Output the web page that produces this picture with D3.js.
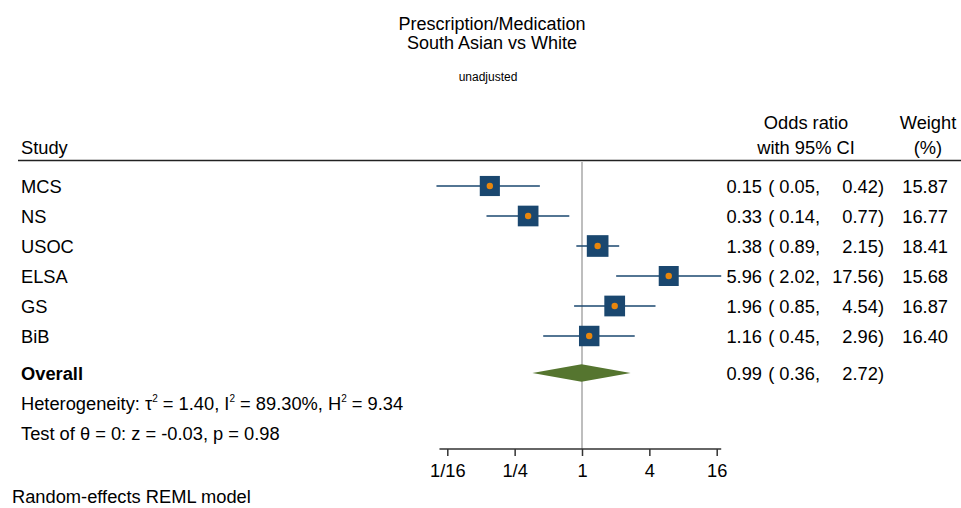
<!DOCTYPE html>
<html><head><meta charset="utf-8">
<script src="https://cdn.jsdelivr.net/npm/d3@7/dist/d3.min.js"></script>
<style>
body{margin:0;background:#fff;}
text{font-family:"Liberation Sans",Arial,sans-serif;fill:#000;}
</style></head>
<body><svg id="c" width="961" height="508"></svg>
<script>
const studies = ["MCS","NS","USOC","ELSA","GS","BiB"];
const oddsRatio = [0.15,0.33,1.38,5.96,1.96,1.16];
const ciLow = [0.05,0.14,0.89,2.02,0.85,0.45];
const ciHigh = [0.42,0.77,2.15,17.56,4.54,2.96];
const weights = [15.87,16.77,18.41,15.68,16.87,16.40];
const overall = {label:"Overall", or:0.99, lo:0.36, hi:2.72};
const tickValues = [1/16,1/4,1,4,16];
const tickLabels = ["1/16","1/4","1","4","16"];

const FS = "18.3px";
const svg = d3.select("#c");
const x = d3.scaleLog().base(2).domain([1/16,16]).range([447.3,716.7]);
const rowY = d3.scalePoint().domain(studies).range([186,336]);
const fmt = d3.format(".2f");

// titles
svg.append("text").attr("x",492).attr("y",30).attr("text-anchor","middle").style("font-size","18px").text("Prescription/Medication");
svg.append("text").attr("x",492).attr("y",49).attr("text-anchor","middle").style("font-size","18px").text("South Asian vs White");
svg.append("text").attr("x",488).attr("y",81).attr("text-anchor","middle").style("font-size","12px").text("unadjusted");

// headers
svg.append("text").attr("x",21).attr("y",154).style("font-size",FS).text("Study");
svg.append("text").attr("x",806).attr("y",129).attr("text-anchor","middle").style("font-size",FS).text("Odds ratio");
svg.append("text").attr("x",806).attr("y",154).attr("text-anchor","middle").style("font-size",FS).text("with 95% CI");
svg.append("text").attr("x",928).attr("y",129).attr("text-anchor","middle").style("font-size",FS).text("Weight");
svg.append("text").attr("x",928).attr("y",154).attr("text-anchor","middle").style("font-size",FS).text("(%)");
svg.append("line").attr("x1",18).attr("x2",961).attr("y1",160.5).attr("y2",160.5).attr("stroke","#222").attr("stroke-width",1.6);

// reference line
svg.append("line").attr("x1",x(1)).attr("x2",x(1)).attr("y1",162).attr("y2",449).attr("stroke","#a8a8a8").attr("stroke-width",1.5);

const rows = studies.map((s,i)=>({s,or:oddsRatio[i],lo:ciLow[i],hi:ciHigh[i],w:weights[i]}));
const g = svg.append("g");
rows.forEach(d=>{
  const y = rowY(d.s);
  g.append("line").attr("x1",x(d.lo)).attr("x2",x(d.hi)).attr("y1",y).attr("y2",y).attr("stroke","#1a476f").attr("stroke-width",1.5);
  const side = 5.05*Math.sqrt(d.w);
  g.append("rect").attr("x",x(d.or)-side/2).attr("y",y-side/2).attr("width",side).attr("height",side).attr("fill","#1a476f");
  g.append("circle").attr("cx",x(d.or)).attr("cy",y).attr("r",3.2).attr("fill","#e8860c");
  g.append("text").attr("x",21).attr("y",y+6.5).style("font-size",FS).text(d.s);
  g.append("text").attr("x",762).attr("y",y+6.5).attr("text-anchor","end").style("font-size",FS).text(fmt(d.or));
  g.append("text").attr("x",820).attr("y",y+6.5).attr("text-anchor","end").style("font-size",FS).style("white-space","pre").text("( "+fmt(d.lo)+",");
  g.append("text").attr("x",884).attr("y",y+6.5).attr("text-anchor","end").style("font-size",FS).text(fmt(d.hi)+")");
  g.append("text").attr("x",948).attr("y",y+6.5).attr("text-anchor","end").style("font-size",FS).text(fmt(d.w));
});

// overall
const oy = 373;
svg.append("path").attr("d",`M${x(overall.lo)},${oy}L${x(overall.or)},${oy-8.7}L${x(overall.hi)},${oy}L${x(overall.or)},${oy+8.7}Z`).attr("fill","#55752f");
svg.append("text").attr("x",21).attr("y",oy+7).style("font-size",FS).style("font-weight","bold").text(overall.label);
svg.append("text").attr("x",762).attr("y",oy+7).attr("text-anchor","end").style("font-size",FS).text(fmt(overall.or));
svg.append("text").attr("x",820).attr("y",oy+7).attr("text-anchor","end").style("font-size",FS).style("white-space","pre").text("( "+fmt(overall.lo)+",");
svg.append("text").attr("x",884).attr("y",oy+7).attr("text-anchor","end").style("font-size",FS).text(fmt(overall.hi)+")");

// heterogeneity
const het = svg.append("text").attr("x",21).attr("y",410).style("font-size",FS);
het.append("tspan").text("Heterogeneity: τ");
het.append("tspan").attr("dy",-8).style("font-size","10px").text("2");
het.append("tspan").attr("dy",8).text(" = 1.40, I");
het.append("tspan").attr("dy",-8).style("font-size","10px").text("2");
het.append("tspan").attr("dy",8).text(" = 89.30%, H");
het.append("tspan").attr("dy",-8).style("font-size","10px").text("2");
het.append("tspan").attr("dy",8).text(" = 9.34");
svg.append("text").attr("x",21).attr("y",440).style("font-size",FS).text("Test of θ = 0: z = -0.03, p = 0.98");

// axis
const ax = svg.append("g").attr("transform","translate(0,449)")
  .call(d3.axisBottom(x).tickValues(tickValues).tickFormat((d,i)=>tickLabels[i]).tickSize(7).tickSizeOuter(0));
ax.select(".domain").remove();
ax.append("line").attr("x1",x(d3.min(ciLow))+3).attr("x2",x(d3.max(ciHigh))).attr("y1",0).attr("y2",0).attr("stroke","#333").attr("stroke-width",1.5);
ax.selectAll(".tick line").attr("stroke","#333").attr("stroke-width",1.5);
ax.selectAll(".tick text").attr("y",15).style("font-size",FS).style("font-family","'Liberation Sans',Arial,sans-serif").attr("fill","#000").attr("dy","0.71em");

svg.append("text").attr("x",12).attr("y",503).style("font-size",FS).text("Random-effects REML model");
</script></body></html>
